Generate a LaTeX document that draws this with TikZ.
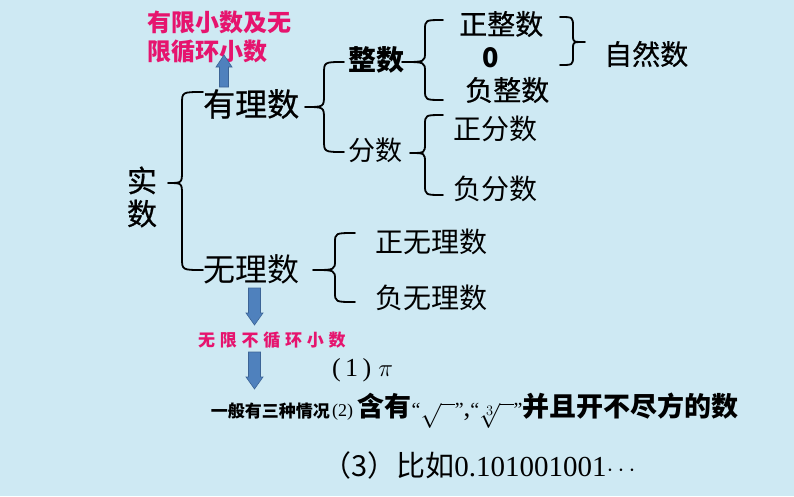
\documentclass[tikz,border=0pt]{standalone}
\usepackage{fontspec}
\setmainfont{Liberation Serif}
\newfontfamily\cjk{Noto Sans CJK SC}
\newfontfamily\cjkm{Noto Sans CJK SC}[FakeBold=0.6]
\definecolor{bg}{RGB}{206,233,243}
\definecolor{mag}{RGB}{230,20,110}
\definecolor{ablue}{RGB}{79,129,189}
\definecolor{aedge}{RGB}{60,100,150}
\newcommand\bracel[7]{\draw[brace] (#6,#4) .. controls (#3,#4) .. (#3,#4+#7) -- (#3,#2-#7) .. controls (#3,#2) .. (#1,#2) .. controls (#3,#2) .. (#3,#2+#7) -- (#3,#5-#7) .. controls (#3,#5) .. (#6,#5);}
\begin{document}
\begin{tikzpicture}[x=1pt,y=-1pt,
  brace/.style={line width=1.8pt, line cap=round, line join=round},
  zh/.style={inner sep=0pt, font=\cjk\fontsize{28}{28}\selectfont},
  zhm/.style={inner sep=0pt, font=\cjkm\fontsize{28}{28}\selectfont},
  zhb/.style={inner sep=0pt, font=\cjk\bfseries\fontsize{28}{28}\selectfont},
  zhn/.style={inner sep=0pt, text=mag, font=\cjk\bfseries\fontsize{24}{30}\selectfont, align=left},
  barrow/.style={fill=ablue, draw=aedge, line width=0.6pt}]
\useasboundingbox (0,0) rectangle (794,496);
\fill[bg] (0,0) rectangle (794,496);

% top magenta note
\node[zhn, anchor=west] (note1) at (147,22) {有限小数及无};
\node[zhn, anchor=west] (note2) at (147,52) {限循环小数};
\draw[barrow] (219.5,87) -- (219.5,67) -- (216,67) -- (224,55) -- (232,67) -- (228.5,67) -- (228.5,87) -- cycle;

% real numbers
\node[zhm, font=\cjkm\fontsize{30}{33}\selectfont, align=center] (shishu) at (142,197) {实\\数};
\bracel{168}{183}{182}{92}{270}{203}{12}

\node[zhm, font=\cjkm\fontsize{32}{32}\selectfont, anchor=west] (youli) at (203,104) {有理数};
\node[zh, font=\cjk\fontsize{32}{32}\selectfont, anchor=west] (wuli) at (203,269) {无理数};

% rational
\bracel{305}{107}{324}{62}{152}{344}{12}
\node[zhb, anchor=west] (zhengshu) at (348,60) {整数};
\node[zh, font=\cjk\fontsize{27}{27}\selectfont, anchor=west] (fenshu) at (348,150) {分数};

\bracel{402}{62}{425}{20}{100}{443}{10}
\node[zhm, anchor=west] (zzs) at (459,24) {正整数};
\node[inner sep=0pt, font=\cjk\bfseries\fontsize{27}{27}\selectfont] (zero) at (491,58) {0};
\node[zhm, anchor=west] (fzs) at (465,90) {负整数};

\draw[brace] (560,17) .. controls (573,17) .. (573,27) -- (573,36) .. controls (573,42) .. (585,42) .. controls (573,42) .. (573,48) -- (573,56) .. controls (573,65) .. (560,65);
\node[zhm, anchor=west] (zrs) at (604,54) {自然数};

\bracel{410}{153}{425}{115}{195}{443}{10}
\node[zh, anchor=west] (zfs) at (453,129) {正分数};
\node[zh, anchor=west] (ffs) at (453,189) {负分数};

% irrational
\bracel{313}{270}{335}{233}{302}{355}{10}
\node[zh, anchor=west] (zwl) at (375,242) {正无理数};
\node[zh, anchor=west] (fwl) at (375,298) {负无理数};

\draw[barrow] (248.5,288) -- (260.5,288) -- (260.5,313) -- (263,313) -- (254.5,325) -- (246,313) -- (248.5,313) -- cycle;
\node[inner sep=0pt, text=mag, anchor=west, font=\cjk\bfseries\fontsize{17}{17}\selectfont\addfontfeature{LetterSpace=28}] (wxbxh) at (198,340) {无限不循环小数};
\draw[barrow] (248.5,352) -- (260.5,352) -- (260.5,377) -- (263,377) -- (254.5,389) -- (246,377) -- (248.5,377) -- cycle;

\node[inner sep=0pt, anchor=west, font=\fontsize{26}{26}\selectfont] (c1) at (332,370) {(\,1\,)\;$\pi$};
\node[inner sep=0pt, anchor=east, font=\cjk\bfseries\fontsize{17}{17}\selectfont] (yiban) at (330,411) {一般有三种情况};
\node[inner sep=0pt, anchor=west, font=\fontsize{27}{27}\selectfont] (c2) at (332,411)
  {{\fontsize{18}{18}\selectfont(2)}\,{\cjk\bfseries 含有}{\fontsize{20}{20}\selectfont``}$\sqrt{\ \ }${\fontsize{20}{20}\selectfont''},{\fontsize{20}{20}\selectfont``}$\sqrt[3]{\ \ }${\fontsize{20}{20}\selectfont''}{\cjk\bfseries 并且开不尽方的数}};
\node[inner sep=0pt, anchor=west, font=\fontsize{29}{29}\selectfont] (c3) at (322,465)
  {{\cjk （3）比如}0.101001001$\cdots$};
\end{tikzpicture}
\end{document}
